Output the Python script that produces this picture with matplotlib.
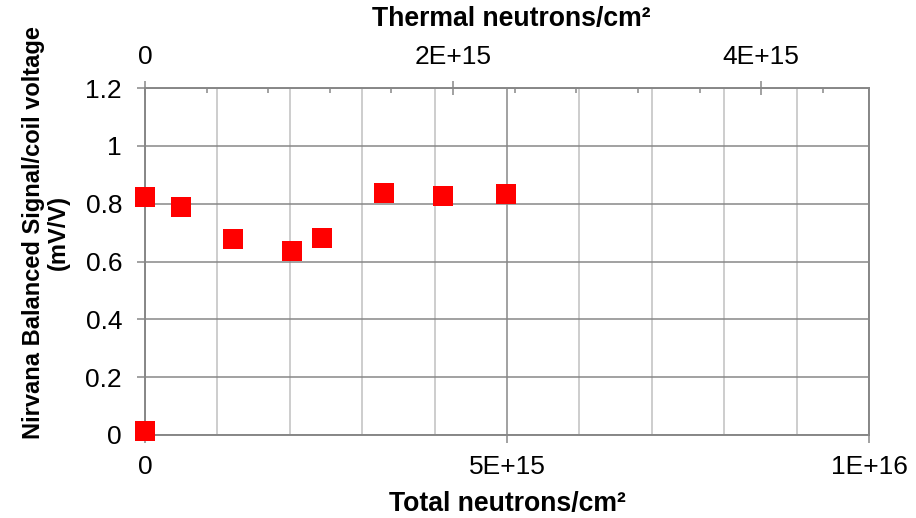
import matplotlib
matplotlib.use('Agg')
import matplotlib.pyplot as plt
from matplotlib.ticker import FixedLocator, MultipleLocator, NullFormatter

plt.rcParams['font.family'] = ['Liberation Sans', 'DejaVu Sans']

# data (x = total neutrons/cm2)
total_fluence = [0, 0, 0.5e15, 1.21e15, 2.03e15, 2.45e15, 3.30e15, 4.12e15, 4.98e15]
balanced_signal = [0.822, 0.015, 0.789, 0.677, 0.637, 0.680, 0.838, 0.826, 0.833]

bottom_ticks = [0, 5e15, 1e16]
bottom_labels = ['0', '5E+15', '1E+16']
top_ticks = [0, 2e15, 4e15]
top_labels = ['0', '2E+15', '4E+15']
y_ticks = [0, 0.2, 0.4, 0.6, 0.8, 1.0, 1.2]
y_labels = ['0', '0.2', '0.4', '0.6', '0.8', '1', '1.2']

thermal_max = 4.7e15

W, H = 916, 518
fig = plt.figure(figsize=(W / 100, H / 100), dpi=100)
ax = fig.add_axes([145 / W, (H - 435) / H, 724 / W, 347 / H])

major_col = '#878787'
minor_col = '#c0c0c0'
tick_fs = 19

ax.set_xlim(0, 1e16)
ax.set_ylim(0, 1.2)

# grid
ax.xaxis.set_major_locator(FixedLocator(bottom_ticks))
ax.xaxis.set_minor_locator(MultipleLocator(1e15))
ax.set_xticklabels(bottom_labels)
ax.set_yticks(y_ticks)
ax.set_yticklabels(y_labels)
ax.grid(True, which='major', axis='both', color=major_col, linewidth=1.1)
ax.grid(True, which='minor', axis='x', color=minor_col, linewidth=1.1)
ax.set_axisbelow(True)

for side in ['left', 'bottom', 'right']:
    ax.spines[side].set_color(major_col)
    ax.spines[side].set_linewidth(1.4)
ax.spines['top'].set_visible(False)

ax.tick_params(axis='both', which='major', direction='out', length=5.5,
               width=1.1, color=major_col, labelsize=tick_fs, labelcolor='black')
ax.tick_params(axis='x', which='major', pad=9)
ax.tick_params(axis='y', which='major', pad=11)
ax.tick_params(axis='x', which='minor', length=0)
ax.tick_params(right=False)

ax.plot(total_fluence, balanced_signal, linestyle='none', marker='s',
        markersize=14.8, color='#ff0000', markeredgewidth=0, clip_on=False,
        zorder=5)

# top axis: thermal neutrons
top = ax.twiny()
top.set_xlim(0, thermal_max)
top.xaxis.set_major_locator(FixedLocator(top_ticks))
top.xaxis.set_minor_locator(MultipleLocator(4e14))
top.xaxis.set_minor_formatter(NullFormatter())
top.set_xticklabels(top_labels)
for side in ['left', 'bottom', 'right']:
    top.spines[side].set_visible(False)
top.spines['top'].set_color(major_col)
top.spines['top'].set_linewidth(1.4)
top.tick_params(axis='x', which='major', direction='inout', length=9.5,
                width=1.1, color=major_col, labelsize=tick_fs, pad=9)
top.tick_params(axis='x', which='minor', direction='in', length=3.6,
                width=1.1, color=major_col)

fig.text(507 / W, 1 - 504 / H, 'Total neutrons/cm\u00b2', ha='center',
         va='center', fontsize=19.2, fontweight='bold')
fig.text(511 / W, 1 - 19 / H, 'Thermal neutrons/cm\u00b2', ha='center',
         va='center', fontsize=19.2, fontweight='bold')
fig.text(46 / W, 1 - 233 / H, 'Nirvana Balanced Signal/coil voltage\n(mV/V)',
         ha='center', va='center', rotation=90, fontsize=17,
         fontweight='bold', linespacing=1.12)

fig.savefig('out.png', dpi=100)
